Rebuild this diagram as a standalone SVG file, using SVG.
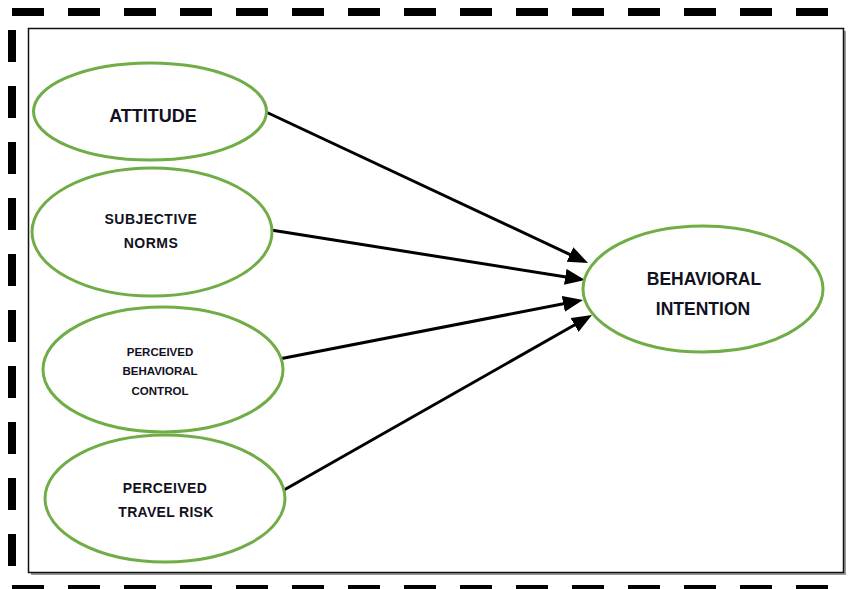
<svg xmlns="http://www.w3.org/2000/svg" width="852" height="589" viewBox="0 0 852 589">
<style>
.node ellipse{fill:#fff;stroke:#70AD47;stroke-width:3}
.node text{font-family:"Liberation Sans",Arial,sans-serif;font-weight:bold;fill:#111122;text-anchor:middle}
.conn line{stroke:#000;stroke-width:3}
.dash{stroke:#000;stroke-width:8;stroke-dasharray:32 24;fill:none}
</style>
<defs>
<marker id="arr" markerUnits="userSpaceOnUse" markerWidth="20" markerHeight="16" refX="12" refY="8" orient="auto">
<path d="M0,0 L20,8 L0,16 z" fill="#000"/>
</marker>
</defs>
<rect width="852" height="589" fill="#fff"/>
<g id="frame">
<line class="dash" x1="12" y1="12" x2="830" y2="12"/>
<line class="dash" x1="12" y1="589" x2="830" y2="589"/>
<line class="dash" x1="12" y1="30" x2="12" y2="570"/>
<rect x="31" y="31" width="815" height="544" fill="#999"/>
<rect x="28.5" y="28.5" width="815" height="544" fill="#fff" stroke="#111" stroke-width="1.5"/>
</g>
<g class="conn" id="connectors">
<line x1="266" y1="112" x2="580.8" y2="259.6" marker-end="url(#arr)"/>
<line x1="271" y1="230" x2="577.1" y2="278.7" marker-end="url(#arr)"/>
<line x1="274" y1="360" x2="575.1" y2="301.5" marker-end="url(#arr)"/>
<line x1="284" y1="490" x2="585" y2="319" marker-end="url(#arr)"/>
</g>
<g class="node" id="attitude">
<ellipse cx="150" cy="111.5" rx="116.5" ry="48.5"/>
<text x="153" y="122" font-size="18">ATTITUDE</text>
</g>
<g class="node" id="subjective-norms">
<ellipse cx="152" cy="232" rx="120" ry="64"/>
<text x="151" y="224" font-size="14" letter-spacing="0.5">SUBJECTIVE</text>
<text x="151" y="248" font-size="14" letter-spacing="0.5">NORMS</text>
</g>
<g class="node" id="perceived-behavioral-control">
<ellipse cx="163" cy="369.5" rx="120" ry="62.5"/>
<text x="160" y="356" font-size="11.5">PERCEIVED</text>
<text x="160" y="375" font-size="11.5">BEHAVIORAL</text>
<text x="160" y="395" font-size="11.5">CONTROL</text>
</g>
<g class="node" id="perceived-travel-risk">
<ellipse cx="165" cy="498.5" rx="120" ry="63.5"/>
<text x="165" y="493" font-size="14" letter-spacing="0.4">PERCEIVED</text>
<text x="166" y="517" font-size="14" letter-spacing="0.3">TRAVEL RISK</text>
</g>
<g class="node" id="behavioral-intention">
<ellipse cx="703" cy="289" rx="120" ry="63"/>
<text x="704" y="285" font-size="17.5">BEHAVIORAL</text>
<text x="703" y="315" font-size="17.5">INTENTION</text>
</g>
</svg>
